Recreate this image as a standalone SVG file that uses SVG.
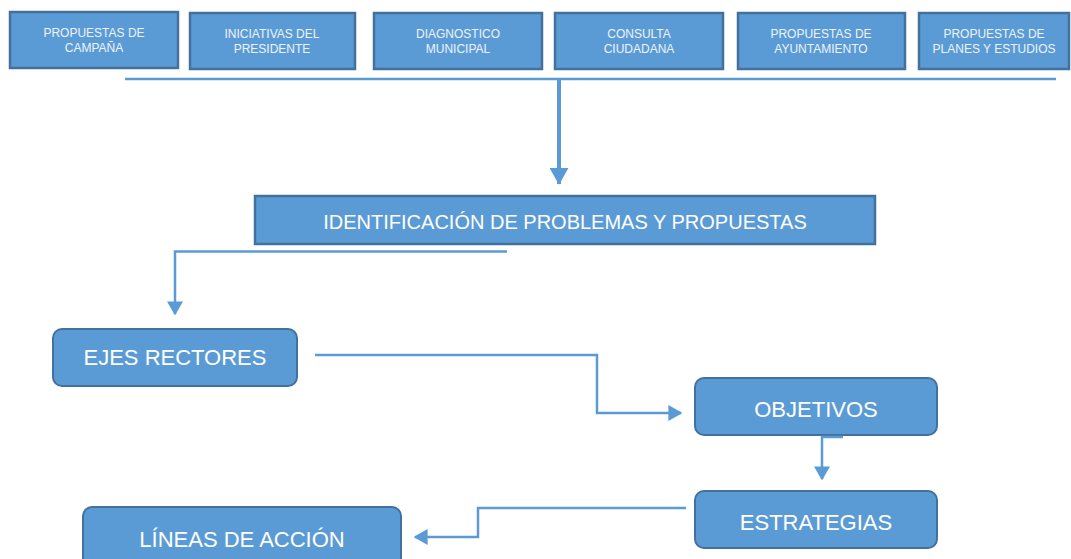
<svg xmlns="http://www.w3.org/2000/svg" width="1071" height="559" viewBox="0 0 1071 559">
<style>
.top{fill:#5B9BD5;stroke:#41719C;stroke-width:2.5}
.box{fill:#5B9BD5;stroke:#41719C;stroke-width:2}
.st{font-family:"Liberation Sans",Arial,sans-serif;font-size:12px;fill:#EEF3FA;text-anchor:middle}
.bt{font-family:"Liberation Sans",Arial,sans-serif;font-size:22px;fill:#FFFFFF;text-anchor:middle}
.c{fill:none;stroke:#5B9BD5;stroke-width:2.5}
</style>
<defs>
<marker id="ah" viewBox="0 0 10 10" refX="9" refY="5" markerWidth="14" markerHeight="16" markerUnits="userSpaceOnUse" preserveAspectRatio="none" orient="auto">
<path d="M0,0 L10,5 L0,10 z" fill="#5B9BD5"/>
</marker>
<marker id="ah2" viewBox="0 0 10 10" refX="9.5" refY="5" markerWidth="17" markerHeight="19" markerUnits="userSpaceOnUse" preserveAspectRatio="none" orient="auto">
<path d="M0,0 L10,5 L0,10 z" fill="#5B9BD5"/>
</marker>
</defs>
<rect width="1071" height="559" fill="#FFFFFF"/>
<g id="n1"><rect class="top" x="10" y="12" width="168" height="56"/><text class="st" x="94" y="37">PROPUESTAS DE</text><text class="st" x="94" y="52">CAMPAÑA</text></g>
<g id="n2"><rect class="top" x="190" y="13" width="165" height="56"/><text class="st" x="272" y="38">INICIATIVAS DEL</text><text class="st" x="272" y="53">PRESIDENTE</text></g>
<g id="n3"><rect class="top" x="374" y="13" width="168" height="56"/><text class="st" x="458" y="38">DIAGNOSTICO</text><text class="st" x="458" y="53">MUNICIPAL</text></g>
<g id="n4"><rect class="top" x="555" y="13" width="168" height="56"/><text class="st" x="639" y="38">CONSULTA</text><text class="st" x="639" y="53">CIUDADANA</text></g>
<g id="n5"><rect class="top" x="738" y="13" width="167" height="56"/><text class="st" x="821" y="38">PROPUESTAS DE</text><text class="st" x="821" y="53">AYUNTAMIENTO</text></g>
<g id="n6"><rect class="top" x="919" y="13" width="150" height="56"/><text class="st" x="994" y="38">PROPUESTAS DE</text><text class="st" x="994" y="53">PLANES Y ESTUDIOS</text></g>
<g id="n7"><rect class="top" x="255" y="196" width="620" height="48"/><text class="bt" x="565" y="229" style="font-size:20px">IDENTIFICACIÓN DE PROBLEMAS Y PROPUESTAS</text></g>
<g id="n8"><rect class="box" x="53" y="329" width="244" height="57" rx="9"/><text class="bt" x="175" y="365">EJES RECTORES</text></g>
<g id="n9"><rect class="box" x="695" y="378" width="242" height="57" rx="9"/><text class="bt" x="816" y="417">OBJETIVOS</text></g>
<g id="n10"><rect class="box" x="695" y="491" width="242" height="57" rx="9"/><text class="bt" x="816" y="530">ESTRATEGIAS</text></g>
<g id="n11"><rect class="box" x="83" y="507" width="318" height="60" rx="9"/><text class="bt" x="242" y="547">LÍNEAS DE ACCIÓN</text></g>
<g id="connectors">
<line class="c" x1="125" y1="79" x2="1056" y2="79"/>
<line class="c" x1="559" y1="79" x2="559" y2="184" style="stroke-width:4" marker-end="url(#ah2)"/>
<polyline class="c" points="507,251.5 175,251.5 175,314" marker-end="url(#ah)"/>
<polyline class="c" points="315,355 597,355 597,413 681,413" marker-end="url(#ah)"/>
<polyline class="c" points="843,437 822,437 822,479" marker-end="url(#ah)"/>
<polyline class="c" points="686,508 478,508 478,537 415,537" marker-end="url(#ah)"/>
</g>
</svg>
